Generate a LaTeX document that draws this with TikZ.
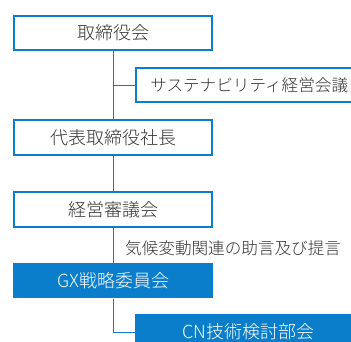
\documentclass[tikz,border=0pt]{standalone}
\usepackage{fontspec}
\setmainfont{Noto Sans CJK JP}[UprightFont=* Light]
\definecolor{bl}{HTML}{0A7DCB}
\definecolor{tx}{HTML}{333333}
\tikzset{
  boxtext/.style={font=\fontsize{18}{20}\selectfont},
  smalltext/.style={font=\fontsize{16.6}{18}\selectfont},
  frame/.style={boxtext,draw=bl,line width=2pt,fill=white,text=tx,minimum width=198pt,minimum height=34.7pt,inner sep=0pt},
  subframe/.style={smalltext,draw=bl,line width=2pt,fill=white,text=tx,minimum width=224.3pt,minimum height=34pt,inner sep=0pt},
  solidbox/.style={boxtext,fill=bl,text=white,minimum width=200pt,minimum height=35pt,inner sep=0pt},
  subsolid/.style={boxtext,fill=bl,text=white,minimum width=225pt,minimum height=36pt,inner sep=0pt},
  conn/.style={draw=bl,line width=1pt},
  lbl/.style={smalltext,text=tx,inner sep=0pt}
}
\begin{document}
\begin{tikzpicture}[x=1pt,y=-1pt]
\useasboundingbox (0,0) rectangle (351,342);
% nodes
\node[frame] (a) at (113.3,33.15) {取締役会};
\node[subframe] (b) at (247.85,85.3) {\hspace*{2.7pt}サステナビリティ経営会議};
\node[frame] (c) at (113.3,137.85) {代表取締役社長};
\node[frame] (d) at (113.3,209.35) {経営審議会};
\node[lbl,anchor=west] (l) at (125,247.8) {気候変動関連の助言及び提言};
\node[solidbox] (e) at (113.3,280.8) {GX戦略委員会};
\node[subsolid,anchor=north west] (f) at (135,314) {\hspace*{2pt}\raisebox{0.5pt}{CN技術検討部会}};
% connectors
\coordinate (j1) at (a.south |- b.west);
\coordinate (j2) at (113.3,332.7);
\draw[conn] (a.south) -- (j1) -- (c.north);
\draw[conn] (j1) -- (b.west);
\draw[conn] (c.south) -- (d.north);
\draw[conn] (d.south) -- (e.north);
\draw[conn] (e.south) -- (j2) -- (j2 -| f.west);
\end{tikzpicture}
\end{document}
